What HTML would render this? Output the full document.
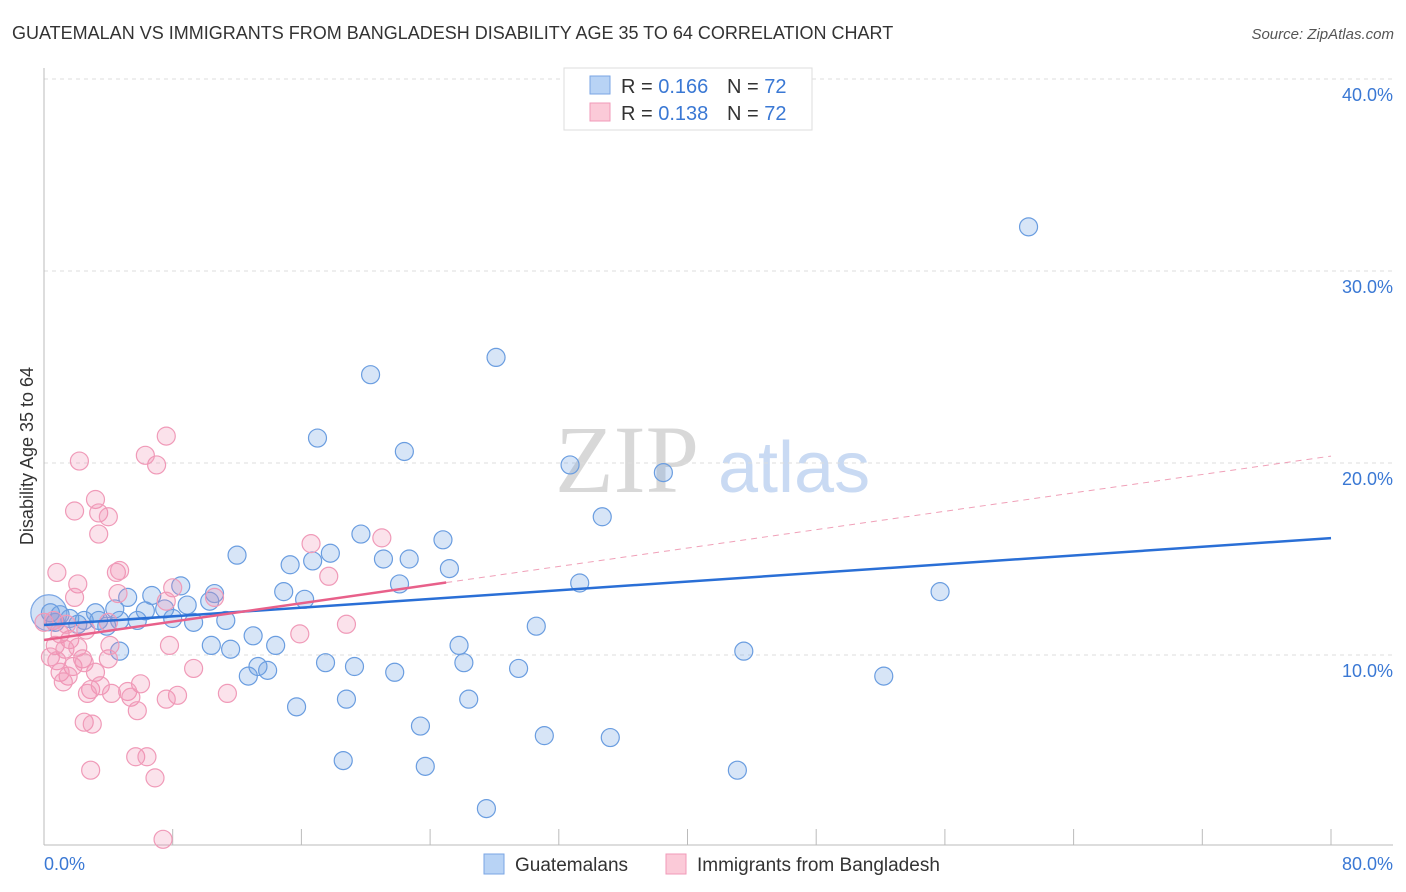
<!DOCTYPE html>
<html><head><meta charset="utf-8"><style>
body{margin:0;background:#fff;font-family:"Liberation Sans",sans-serif;}
svg{display:block}
</style></head><body>
<svg width="1406" height="892" xmlns="http://www.w3.org/2000/svg" id="chart">
<text x="12" y="39" font-size="18" fill="#333">GUATEMALAN VS IMMIGRANTS FROM BANGLADESH DISABILITY AGE 35 TO 64 CORRELATION CHART</text>
<text x="1394" y="39" font-size="15" fill="#555" font-style="italic" text-anchor="end">Source: ZipAtlas.com</text>
<text transform="translate(33,456) rotate(-90)" font-size="18" fill="#333" text-anchor="middle">Disability Age 35 to 64</text>
<text x="555" y="492" font-size="96" font-family="Liberation Serif,serif" fill="#d8d8d8">ZIP</text>
<text x="718" y="492" font-size="72" fill="#c9daf3">atlas</text>
<g id="grid"></g>
<g id="axes"></g>
<g id="trend"></g>
<g id="pts"></g>
<g>
<rect x="564" y="68" width="248" height="62" fill="#fff" stroke="#ddd"/>
<rect x="590" y="76" width="20" height="18" fill="#b8d3f5" stroke="#7aa6e4"/>
<text x="621" y="93" font-size="20" fill="#333">R = <tspan fill="#3a78d4">0.166</tspan><tspan x="727">N = </tspan><tspan fill="#3a78d4">72</tspan></text>
<rect x="590" y="103" width="20" height="18" fill="#fbcad8" stroke="#f09ab8"/>
<text x="621" y="120" font-size="20" fill="#333">R = <tspan fill="#3a78d4">0.138</tspan><tspan x="727">N = </tspan><tspan fill="#3a78d4">72</tspan></text>
</g>
<g>
<rect x="484" y="854" width="20" height="20" fill="#b8d3f5" stroke="#7aa6e4"/>
<text x="515" y="871" font-size="19" fill="#333">Guatemalans</text>
<rect x="666" y="854" width="20" height="20" fill="#fbcad8" stroke="#f09ab8"/>
<text x="697" y="871" font-size="19" fill="#333">Immigrants from Bangladesh</text>
</g>
<text x="44" y="870" font-size="18" fill="#3a78d4">0.0%</text>
<text x="1393" y="870" font-size="18" fill="#3a78d4" text-anchor="end">80.0%</text>
</svg>
<script>
const yTicks=[10,20,30,40];
const yTickLabels=["10.0%","20.0%","30.0%","40.0%"];
const xTickVals=[8,16,24,32,40,48,56,64,72,80];
const blueX=[61.2,28.1,20.3,17.0,22.4,32.7,38.5,34.7,19.7,24.8,12.0,17.8,21.1,22.7,15.3,16.7,25.2,33.3,22.1,8.5,10.6,14.9,6.7,5.2,55.7,16.2,8.9,7.5,4.4,6.3,10.3,11.3,9.3,5.8,8.0,3.4,3.9,2.5,1.6,1.0,30.6,13.0,14.4,25.8,11.6,4.7,43.5,26.1,29.5,17.5,19.3,13.9,13.3,12.7,21.8,52.2,18.8,26.4,15.7,23.4,31.1,35.2,18.6,23.7,43.1,27.5,4.7,3.2,2.1,0.7,10.4,0.4];
const blueY=[32.3,25.5,24.6,21.3,20.6,19.9,19.5,17.2,16.3,16.0,15.2,15.3,15.0,15.0,14.7,14.9,14.5,13.75,13.7,13.6,13.2,13.3,13.1,13.0,13.3,12.9,12.6,12.4,12.4,12.3,12.8,11.8,11.7,11.8,11.9,11.8,11.5,11.8,11.9,12.1,11.5,11.0,10.5,10.5,10.3,10.2,10.2,9.6,9.3,9.6,9.4,9.2,9.4,8.9,9.1,8.9,7.7,7.7,7.3,6.3,5.8,5.7,4.5,4.2,4.0,2.0,11.8,12.2,11.6,11.7,10.5,12.2];
const pinkX=[7.6,2.2,7.0,6.3,3.2,1.9,3.4,4.0,3.4,21.0,16.6,0.8,4.5,4.7,2.1,17.7,8.0,10.6,1.9,4.6,7.6,0,1.0,2.6,1.6,0.7,1.3,15.9,18.8,7.8,4.0,0.4,0.8,2.4,4.0,1.8,2.5,3.2,1.0,1.5,9.3,1.2,6.0,2.9,3.5,2.7,5.2,4.2,8.3,5.4,11.4,7.6,5.8,2.5,3.0,5.7,6.4,2.9,6.9,7.4,0.6,4.1,1.4,2.1];
const pinkY=[21.4,20.1,19.9,20.4,18.1,17.5,17.4,17.2,16.3,16.1,15.8,14.3,14.3,14.4,13.7,14.1,13.5,13.0,13.0,13.2,12.8,11.7,11.1,11.3,10.8,10.5,10.3,11.1,11.6,10.5,11.7,9.9,9.7,9.8,9.8,9.4,9.6,9.1,9.1,8.9,9.3,8.6,8.5,8.2,8.4,8.0,8.1,8.0,7.9,7.8,8.0,7.7,7.1,6.5,6.4,4.7,4.7,4.0,3.6,0.4,11.8,10.5,11.6,10.4];
const blueTrend=[11.56,16.09];
const pinkTrend=[10.78,20.36];
const pinkSolidEnd=25;
const NS="http://www.w3.org/2000/svg";
const X=v=>44+v/80*1287, Y=v=>847-v*19.2;
function mk(t,a,p){const e=document.createElementNS(NS,t);for(const k in a)e.setAttribute(k,a[k]);p.appendChild(e);return e;}
const grid=document.getElementById('grid'),axes=document.getElementById('axes'),trend=document.getElementById('trend'),pts=document.getElementById('pts');
yTicks.forEach((t,i)=>{
 const l=mk('line',{x1:44,x2:1393,y1:Y(t),y2:Y(t),stroke:'#ddd','stroke-dasharray':'4,4'},grid);
 
 
 const tx=mk('text',{x:1393,y:Y(t)+22,'font-size':18,fill:'#3a78d4','text-anchor':'end'},grid);
 tx.textContent=yTickLabels[i];
 
 
});
const la=mk('line',{x1:44,x2:44,y1:68,y2:845,stroke:'#bbb'},axes);


const lb=mk('line',{x1:44,x2:1393,y1:845,y2:845,stroke:'#bbb'},axes);


xTickVals.forEach(v=>{
 const t=mk('line',{x1:X(v),x2:X(v),y1:829,y2:845,stroke:'#bbb'},axes);
 
 
});
function dot(x,y,r,fill,stroke,name){
 const c=mk('circle',{cx:X(x),cy:Y(y),r:r,fill:fill,stroke:stroke,'stroke-width':1.2},pts);
 
 
}
dot(0.3,12.2,18,'rgba(110,160,225,0.3)','#7aa6e4','guatemalan-point-large');
blueX.forEach((x,i)=>dot(x,blueY[i],9,'rgba(110,160,225,0.28)','#6a9de0','guatemalan-point'));
pinkX.forEach((x,i)=>dot(x,pinkY[i],9,'rgba(240,140,175,0.25)','#f09ab8','bangladesh-point'));
const pY=v=>pinkTrend[0]+(pinkTrend[1]-pinkTrend[0])*v/80;
const pd=mk('line',{x1:X(pinkSolidEnd),y1:Y(pY(pinkSolidEnd)),x2:X(80),y2:Y(pinkTrend[1]),stroke:'#f0a0b8','stroke-width':1,'stroke-dasharray':'6,5'},trend);


const bt=mk('line',{x1:X(0),y1:Y(blueTrend[0]),x2:X(80),y2:Y(blueTrend[1]),stroke:'#2a6fd6','stroke-width':2.5},pts);


const pt=mk('line',{x1:X(0),y1:Y(pinkTrend[0]),x2:X(pinkSolidEnd),y2:Y(pY(pinkSolidEnd)),stroke:'#e8608a','stroke-width':2.5},pts);


</script>
</body></html>
